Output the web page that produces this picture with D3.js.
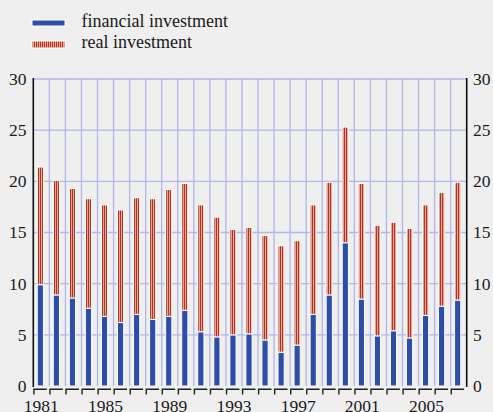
<!doctype html>
<html>
<head>
    <meta charset="utf-8">
    <title>Investment</title>
    <script src="https://d3js.org/d3.v7.min.js"></script>
    <style type="text/css">
        html, body { margin: 0; background: #efefef; }
        svg { display: block; }
        text { font-family: "Liberation Serif", "Times New Roman", "DejaVu Serif", serif; fill: #1a1a1a; }
    </style>
</head>
<body>
<svg id="chart" width="493" height="412" font-family="Liberation Serif, serif"></svg>
<script type="text/javascript">
    var years = d3.range(1981, 2008);
    var financial = [9.9, 8.9, 8.6, 7.6, 6.8, 6.2, 7.0, 6.5, 6.8, 7.4, 5.3, 4.8, 5.0, 5.1,
                     4.5, 3.3, 4.0, 7.0, 8.9, 14.0, 8.5, 4.9, 5.4, 4.7, 6.9, 7.8, 8.4];
    var real = [11.5, 11.2, 10.7, 10.7, 10.9, 11.0, 11.4, 11.8, 12.4, 12.4, 12.4, 11.7, 10.3, 10.4,
                10.2, 10.4, 10.2, 10.7, 11.0, 11.3, 11.3, 10.8, 10.6, 10.7, 10.8, 11.1, 11.5];
    var yTicks = [0, 5, 10, 15, 20, 25, 30];
    var xLabels = [1981, 1985, 1989, 1993, 1997, 2001, 2005];
    var seriesNames = ["financial investment", "real investment"];

    // plot box (window.top is reserved, so prefixed names)
    var plotL = 33.3, plotR = 466.7, plotT = 79, plotB = 386;

    var svg = d3.select("#chart");

    // stripe pattern for real investment
    var defs = svg.append("defs");
    var pat = defs.append("pattern")
        .attr("id", "stripes")
        .attr("patternUnits", "userSpaceOnUse")
        .attr("width", 2).attr("height", 4);
    pat.append("rect").attr("width", 2).attr("height", 4).attr("fill", "#e2a595");
    pat.append("rect").attr("width", 1).attr("height", 4).attr("fill", "#b5331f");

    var x = d3.scaleBand().domain(years).range([plotL, plotR]).paddingInner(0);
    var y = d3.scaleLinear().domain([0, 30]).range([plotB, plotT]);

    // grid
    var grid = svg.append("g").attr("stroke", "#b2b6e8").attr("stroke-width", 1.3);
    grid.selectAll("line.h").data(yTicks.filter(function(d){ return d > 0; }))
        .enter().append("line")
        .attr("x1", plotL).attr("x2", plotR)
        .attr("y1", function(d){ return y(d); }).attr("y2", function(d){ return y(d); });
    grid.selectAll("line.v").data(years.slice(1))
        .enter().append("line")
        .attr("x1", function(d){ return x(d); }).attr("x2", function(d){ return x(d); })
        .attr("y1", plotT).attr("y2", plotB);

    // stacked bars
    var rows = years.map(function(yr, i){ return {year: yr, fin: financial[i], real: real[i]}; });
    var stack = d3.stack().keys(["fin", "real"])(rows);
    var fills = ["#2c4ea8", "url(#stripes)"];
    var bw = 6.2;

    svg.append("g").selectAll("g").data(stack).enter().append("g")
        .attr("fill", function(d, i){ return fills[i]; })
        .selectAll("rect").data(function(d){ return d; })
        .enter().append("rect")
        .attr("x", function(d){ return x(d.data.year) + x.bandwidth() / 2 - 1 - bw / 2; })
        .attr("width", bw)
        .attr("y", function(d){ return y(d[1]); })
        .attr("height", function(d){ return y(d[0]) - y(d[1]); })
        .attr("stroke", "#ffffff")
        .attr("stroke-width", 1);

    // axes lines
    svg.append("line").attr("x1", plotL).attr("x2", plotL).attr("y1", plotT - 1).attr("y2", plotB + 1)
        .attr("stroke", "#111").attr("stroke-width", 1.6);
    svg.append("line").attr("x1", plotR).attr("x2", plotR).attr("y1", plotT - 1).attr("y2", plotB + 1)
        .attr("stroke", "#111").attr("stroke-width", 1.6);

    // bottom bracket ticks
    svg.append("g").selectAll("path").data(years).enter().append("path")
        .attr("d", function(d){
            var x0 = x(d) + 0.6, x1 = x(d) + x.bandwidth() - 2.6;
            return "M" + x0 + "," + (plotB + 8.5) + "V" + (plotB + 3.3) + "H" + x1;
        })
        .attr("fill", "none").attr("stroke", "#222").attr("stroke-width", 1.4);

    // y labels
    var fs = 17.5;
    svg.append("g").selectAll("text").data(yTicks).enter().append("text")
        .attr("x", 26.5).attr("y", function(d){ return y(d); })
        .attr("dy", "0.34em").attr("text-anchor", "end")
        .attr("font-size", fs).text(function(d){ return d; });
    svg.append("g").selectAll("text").data(yTicks).enter().append("text")
        .attr("x", 473).attr("y", function(d){ return y(d); })
        .attr("dy", "0.34em").attr("text-anchor", "start")
        .attr("font-size", fs).text(function(d){ return d; });

    // x labels
    svg.append("g").selectAll("text").data(xLabels).enter().append("text")
        .attr("x", function(d){ return x(d) + x.bandwidth() / 2; })
        .attr("y", 411.5).attr("text-anchor", "middle")
        .attr("font-size", fs).text(function(d){ return d; });

    // legend
    var lg = svg.append("g");
    lg.append("rect").attr("x", 32).attr("y", 20).attr("width", 33).attr("height", 6)
        .attr("fill", fills[0]).attr("stroke", "#fff").attr("stroke-width", 1);
    lg.append("rect").attr("x", 32).attr("y", 41).attr("width", 33).attr("height", 7)
        .attr("fill", fills[1]).attr("stroke", "#fff").attr("stroke-width", 1);
    lg.append("text").attr("x", 81.5).attr("y", 26.7).attr("font-size", 18).text(seriesNames[0]);
    lg.append("text").attr("x", 81.5).attr("y", 47.5).attr("font-size", 18).text(seriesNames[1]);
</script>
</body>
</html>
